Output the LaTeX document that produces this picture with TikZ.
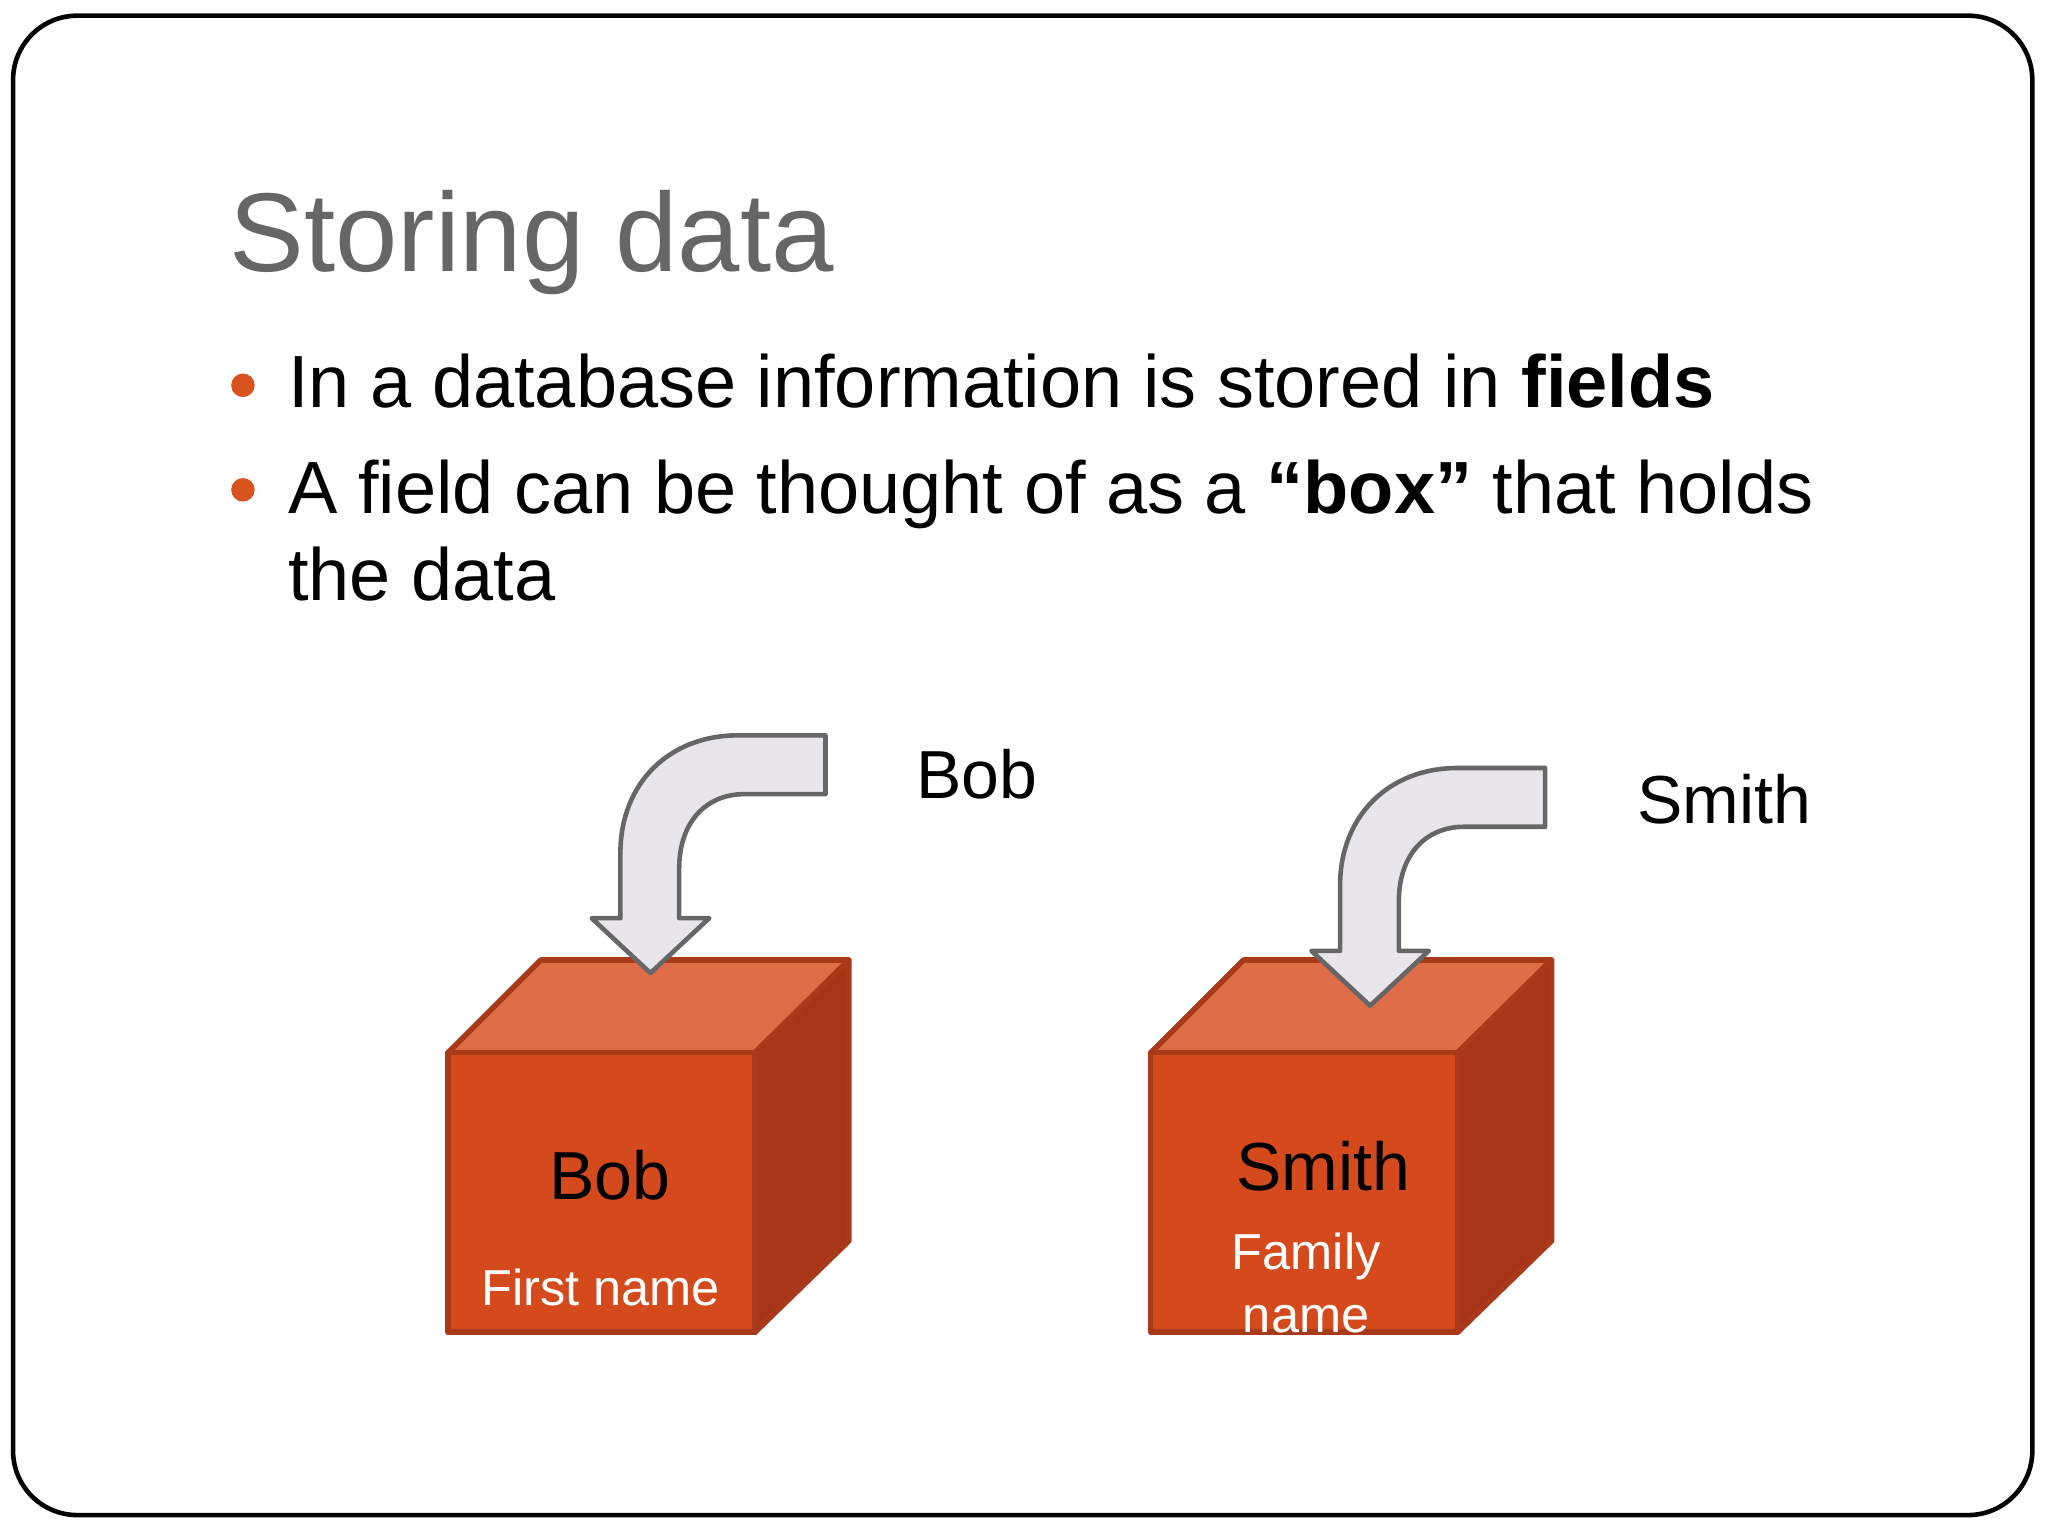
\documentclass[tikz,border=0pt]{standalone}
\usepackage{fontspec}
\setmainfont{Liberation Sans}
\definecolor{front}{HTML}{D44A1C}
\definecolor{topc}{HTML}{DF6E48}
\definecolor{side}{HTML}{A83616}
\definecolor{edge}{HTML}{A83A1A}
\definecolor{arrfill}{HTML}{E8E6EA}
\definecolor{bull}{HTML}{D9531E}
\tikzset{
 facefront/.style={fill=front,draw=edge,line width=1.2pt,line join=round},
 facetop/.style={fill=topc,draw=edge,line width=1.2pt,line join=round},
 faceside/.style={fill=side,draw=edge,line width=1.2pt,line join=round},
 bentarrow/.style={fill=arrfill,draw=gray!80!black,line width=1pt,line join=round},
 bodytext/.style={anchor=base west,inner sep=0pt,font=\fontsize{16.1}{20}\selectfont},
 bigtext/.style={inner sep=0pt,font=\fontsize{14.8}{18}\selectfont},
 smalltext/.style={inner sep=0pt,text=white,font=\fontsize{11}{13}\selectfont},
}
\begin{document}
\begin{tikzpicture}[x=0.01cm,y=-0.01cm]
\useasboundingbox (0,0) rectangle (1568,1176);
\fill[white] (0,0) rectangle (1568,1176);
\draw[line width=1pt,rounded corners=14pt] (10,12) rectangle (1556,1160);
\node[anchor=base west,inner sep=0pt,text=black!60,font=\fontsize{24.4}{30}\selectfont] (title) at (175,208) {Storing data};
\fill[bull] (186,295) circle (9);
\fill[bull] (186,375) circle (9);
\node[bodytext] (l1) at (220,312) {In a database information is stored in \textbf{fields}};
\node[bodytext] (l2) at (220,393) {A field can be thought of as a \textbf{``box''} that holds};
\node[bodytext] (l3) at (220,460) {the data};
% cubes
\begin{scope}
\filldraw[facetop] (343,806) -- (414,735) -- (650,735) -- (578,806) -- cycle;
\filldraw[faceside] (578,806) -- (650,735) -- (650,950) -- (578,1020) -- cycle;
\filldraw[facefront] (343,806) rectangle (578,1020);
\end{scope}
\begin{scope}[shift={(538,0)}]
\filldraw[facetop] (343,806) -- (414,735) -- (650,735) -- (578,806) -- cycle;
\filldraw[faceside] (578,806) -- (650,735) -- (650,950) -- (578,1020) -- cycle;
\filldraw[facefront] (343,806) rectangle (578,1020);
\end{scope}
% arrows
\filldraw[bentarrow] (632,563) -- (565,563) .. controls (512,563) and (475,600) .. (475,653) -- (475,703) -- (453,703) -- (498,745) -- (543,703) -- (520,703) -- (520,665) .. controls (520,630) and (540,608) .. (570,608) -- (632,608) -- cycle;
\begin{scope}[shift={(551,25)}]
\filldraw[bentarrow] (632,563) -- (565,563) .. controls (512,563) and (475,600) .. (475,653) -- (475,703) -- (453,703) -- (498,745) -- (543,703) -- (520,703) -- (520,665) .. controls (520,630) and (540,608) .. (570,608) -- (632,608) -- cycle;
\end{scope}
\node[bigtext] (b1) at (467,900) {Bob};
\node[smalltext] (f1) at (460,986) {First name};
\node[bigtext] (s1) at (1013,893) {Smith};
\node[smalltext] (f2) at (1000,962) {Family};
\begin{scope}
\clip (881,806) rectangle (1116,1020);
\node[smalltext] (f3) at (1000,1010) {name};
\end{scope}
\node[bigtext] (bl) at (748,593) {Bob};
\node[bigtext] (sl) at (1320,612) {Smith};
\end{tikzpicture}
\end{document}
